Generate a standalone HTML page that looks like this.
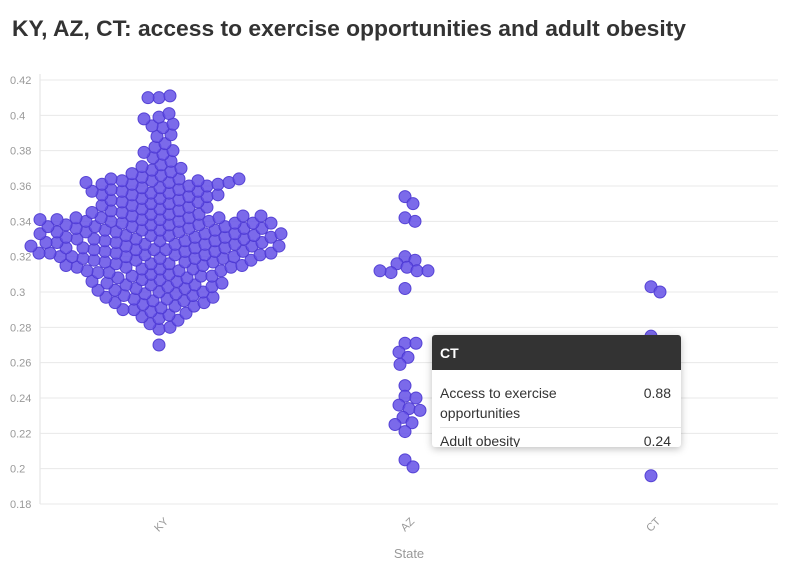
<!DOCTYPE html>
<html><head><meta charset="utf-8"><style>
body{margin:0;background:#fff;font-family:"Liberation Sans",sans-serif;}
#wrap{position:relative;width:796px;height:575px;overflow:hidden;}
#tip{position:absolute;left:432px;top:335px;width:249px;height:112px;background:#fff;box-shadow:0 2px 8px rgba(0,0,0,0.25);border-radius:3px;overflow:hidden;font-size:14px;color:#333;}
#tip .hd{background:#333;color:#fff;font-weight:bold;height:35px;line-height:37px;padding-left:8px;font-size:14px;}
#tip .row{display:flex;justify-content:space-between;padding:0 10px 0 8px;}
</style></head><body>
<div id="wrap">
<svg id="chart" width="796" height="575">
<text x="12" y="36" font-size="22" font-weight="bold" fill="#333" textLength="674" lengthAdjust="spacingAndGlyphs">KY, AZ, CT: access to exercise opportunities and adult obesity</text>
<g id="grid"></g><g id="dots"></g>
<text x="409" y="558" font-size="13" fill="#999" text-anchor="middle">State</text>
</svg>
<div id="tip">
<div class="hd">CT</div>
<div class="row" style="margin-top:13px;line-height:20px"><span>Access to exercise<br>opportunities</span><span>0.88</span></div>
<div style="border-top:1px solid #e6e6e6;margin:4px 0 0 8px;"></div>
<div class="row" style="line-height:22px;margin-top:2px"><span>Adult obesity</span><span>0.24</span></div>
</div>
</div>
<script>
const categories=["KY","AZ","CT"];
const yTicks=[0.18,0.2,0.22,0.24,0.26,0.28,0.3,0.32,0.34,0.36,0.38,0.4,0.42];
const kyValues=[0.270,0.279,0.280,0.282,0.284,0.285,0.286,0.287,0.288,0.289,0.290,0.290,0.291,0.292,0.292,0.293,0.294,0.294,
0.295,0.295,0.296,0.296,0.297,0.297,0.298,0.298,0.299,0.299,0.300,0.300,0.301,0.301,0.302,0.302,0.303,0.303,0.304,0.304,0.304,
0.305,0.305,0.306,0.306,0.307,0.307,0.308,0.308,0.309,0.309,0.309,0.310,0.310,0.311,0.311,0.312,0.312,0.312,0.313,0.313,0.313,0.314,0.314,0.314,0.315,0.315,0.315,0.316,0.316,0.316,0.317,0.317,0.317,0.318,0.318,0.318,0.319,0.319,0.319,0.319,
0.320,0.320,0.320,0.320,0.321,0.321,0.321,0.321,0.322,0.322,0.322,0.322,0.323,0.323,0.323,0.323,0.324,0.324,0.324,0.324,0.325,0.325,0.325,0.325,0.326,0.326,0.326,0.326,0.327,0.327,0.327,0.327,0.328,0.328,0.328,0.328,0.329,0.329,0.329,0.329,
0.330,0.330,0.330,0.330,0.331,0.331,0.331,0.331,0.332,0.332,0.332,0.332,0.333,0.333,0.333,0.333,0.334,0.334,0.334,0.334,0.335,0.335,0.335,0.335,0.336,0.336,0.336,0.336,0.337,0.337,0.337,0.337,0.338,0.338,0.338,0.338,0.339,0.339,0.339,0.339,
0.340,0.340,0.340,0.340,0.341,0.341,0.341,0.341,0.342,0.342,0.342,0.342,0.343,0.343,0.343,0.344,0.344,0.344,0.345,0.345,0.346,0.346,0.347,0.347,0.348,0.348,0.349,0.349,
0.350,0.350,0.351,0.351,0.352,0.352,0.353,0.353,0.354,0.354,0.355,0.355,0.356,0.356,0.357,0.357,0.358,0.358,0.359,0.359,0.355,0.357,0.361,0.363,
0.360,0.360,0.361,0.361,0.362,0.362,0.363,0.363,0.364,0.364,0.365,0.366,0.367,0.368,0.369,0.370,0.371,0.372,0.362,0.364,
0.374,0.376,0.378,0.379,0.380,0.382,0.384,0.388,0.389,0.393,0.394,0.395,0.398,0.399,0.401,0.410,0.411,0.410];
const azValues=[0.354,0.350,0.342,0.340,0.320,0.318,0.316,0.314,0.312,0.311,0.312,0.312,0.302,0.271,0.271,0.266,0.263,0.259,0.247,0.241,0.240,0.236,0.234,0.233,0.229,0.226,0.225,0.221,0.205,0.201];
const ctValues=[0.303,0.300,0.275,0.262,0.248,0.240,0.240,0.236,0.235,0.228,0.220,0.196];
const seriesValues=[kyValues,azValues,ctValues];

const NS="http://www.w3.org/2000/svg";
const X0=40,X1=778,Y0=504,Y1=80,vMin=0.18,vMax=0.42;
function yScale(v){return Y0-(v-vMin)/(vMax-vMin)*(Y0-Y1);}
function xScale(i){const bw=(X1-X0)/categories.length;return X0+bw*(i+0.5)-4;}
const grid=document.getElementById('grid'),dots=document.getElementById('dots');
function mk(tag,attrs,parent){const e=document.createElementNS(NS,tag);for(const k in attrs)e.setAttribute(k,attrs[k]);parent.appendChild(e);return e;}
const ax=mk('line',{x1:X0,x2:X0,y1:Y1-6,y2:Y0,stroke:'#e0e0e0'},grid);


yTicks.forEach(t=>{
  const y=yScale(t);
  const l=mk('line',{x1:X0,x2:X1,y1:y,y2:y,stroke:'#e8e8e8'},grid);
  
  
  const tx=mk('text',{x:10,y:y+4,'font-size':11,fill:'#999'},grid);
  tx.textContent=String(t);
  
  
});
categories.forEach((c,i)=>{
  const x=xScale(i);
  const tx=mk('text',{x:x+10,y:522,'font-size':11,fill:'#999','text-anchor':'end',transform:`rotate(-45 ${x+10} 522)`},grid);
  tx.textContent=c;
  
  
});
const R=6,D=10.4;
seriesValues.forEach((vals,ci)=>{
  const cx=xScale(ci);const placed=[];
  vals.forEach(v=>{
    const y=yScale(v);let best=0;
    for(let k=0;k<400;k++){
      const off=(k%2?1:-1)*Math.ceil(k/2);
      if(placed.every(p=>{const dx=p[0]-off,dy=p[1]-y;return dx*dx+dy*dy>=D*D;})){best=off;break;}
    }
    placed.push([best,y]);
    const c=mk('circle',{cx:cx+best,cy:y,r:R,fill:'rgba(100,80,230,0.85)',stroke:'rgba(75,55,210,0.9)','stroke-width':1},dots);
    
    
  });
});
</script>
</body></html>
